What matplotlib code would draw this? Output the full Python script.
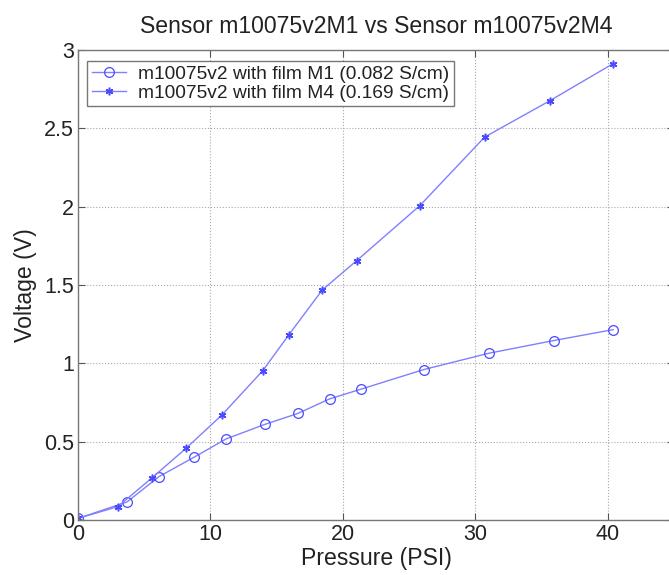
import matplotlib
matplotlib.use("Agg")
import matplotlib.pyplot as plt

# ── Data ───────────────────────────────────────────────────────────────────────
pressure_m1 = [0.0, 3.7, 6.1, 8.75, 11.2, 14.1, 16.6, 19.0, 21.4, 26.1, 31.0, 35.9, 40.4]
voltage_m1  = [0.01, 0.115, 0.276, 0.40, 0.518, 0.61, 0.68, 0.773, 0.836, 0.96, 1.064, 1.145, 1.215]

pressure_m4 = [0.0, 3.0, 5.6, 8.15, 10.85, 13.95, 15.9, 18.45, 21.05, 25.8, 30.7, 35.6, 40.4]
voltage_m4  = [0.01, 0.085, 0.27, 0.457, 0.669, 0.953, 1.18, 1.469, 1.656, 2.006, 2.444, 2.675, 2.913]

labels = ["m10075v2 with film M1 (0.082 S/cm)",
          "m10075v2 with film M4 (0.169 S/cm)"]

xticks = [0, 10, 20, 30, 40]
yticks = [0, 0.5, 1, 1.5, 2, 2.5, 3]
ytick_labels = ["0", "0.5", "1", "1.5", "2", "2.5", "3"]

# ── Style ──────────────────────────────────────────────────────────────────────
plt.rcParams["font.family"] = ["Liberation Sans", "DejaVu Sans"]
LINE = "#8080ff"
MARK = "#4a4aff"
ASTERISK = (6, 2, 0)   # six-armed asterisk marker

fig = plt.figure(figsize=(6.69, 5.75), dpi=100)
ax = fig.add_axes([0.1166, 0.0957, 0.891, 0.8174])

ax.plot(pressure_m1, voltage_m1, color=LINE, lw=1.0, marker="o", ms=7,
        mfc="none", mec=MARK, mew=0.9, label=labels[0])
ax.plot(pressure_m4, voltage_m4, color=LINE, lw=1.0, marker=ASTERISK, ms=5.5,
        mfc=MARK, mec=MARK, mew=1.1, label=labels[1])

ax.set_xlim(0, 45)
ax.set_ylim(0, 3)
ax.set_xticks(xticks)
ax.set_yticks(yticks)
ax.set_yticklabels(ytick_labels)
ax.tick_params(direction="in", top=True, right=True, labelsize=15.5,
               length=5, width=0.8, color="#555555", pad=3,
               labelcolor="#222222")

ax.grid(True, linestyle=":", color="#aaaaaa", linewidth=0.8)
for sp in ax.spines.values():
    sp.set_color("#777777")
    sp.set_linewidth(1.0)

ax.set_title("Sensor m10075v2M1 vs Sensor m10075v2M4", fontsize=16.6,
             pad=12, color="#222222")
ax.set_xlabel("Pressure (PSI)", fontsize=16.6, labelpad=1, color="#222222")
ax.set_ylabel("Voltage (V)", fontsize=16.6, labelpad=5, color="#222222")

leg = ax.legend(loc="upper left", bbox_to_anchor=(0.0151, 0.9766), fontsize=13.8,
                frameon=True, fancybox=False, borderpad=0.25, labelspacing=0.05,
                handlelength=1.8, handletextpad=0.6, borderaxespad=0,
                labelcolor="#222222")
leg.get_frame().set_edgecolor("#777777")
leg.get_frame().set_linewidth(1.0)
leg.get_frame().set_alpha(1.0)

fig.savefig("out.png", dpi=100)
